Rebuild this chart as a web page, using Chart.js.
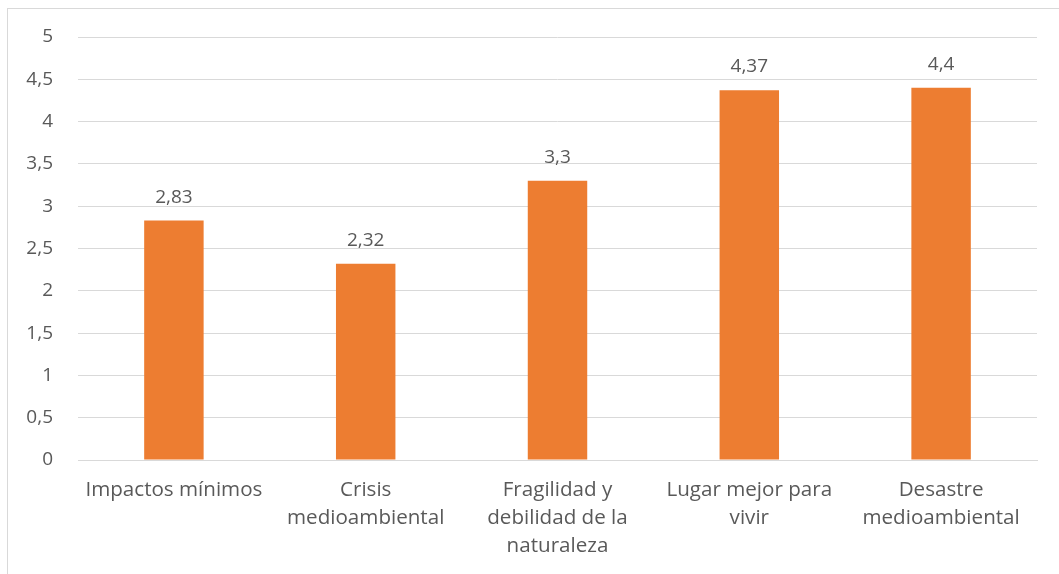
<!DOCTYPE html>
<html>
<head>
<meta charset="utf-8">
<script src="https://cdn.jsdelivr.net/npm/chart.js@4"></script>
<style>
  html,body{margin:0;padding:0;background:#fff;overflow:hidden;}
  #frame{position:absolute;left:7px;top:8px;width:1100px;height:620px;border:1px solid #d9d9d9;box-sizing:border-box;}
  #wrap{position:absolute;left:0;top:0;width:1059px;height:574px;}
</style>
</head>
<body>
<div id="frame"></div>
<div id="wrap"><canvas id="c"></canvas></div>
<script>
// categorías y valores
const labels = [
  "Impactos mínimos",
  ["Crisis", "medioambiental"],
  ["Fragilidad y", "debilidad de la", "naturaleza"],
  ["Lugar mejor para", "vivir"],
  ["Desastre", "medioambiental"]
];
const values = [2.83, 2.32, 3.3, 4.37, 4.4];
const yTicks = [0, 0.5, 1, 1.5, 2, 2.5, 3, 3.5, 4, 4.5, 5];

const TXT = "#595959", GRID = "#d9d9d9", BAR = "#ED7D31";
const FONT = "'Open Sans', sans-serif";

function fmt(v){ return String(v).replace(".", ","); }

// etiquetas de datos encima de cada barra
const valueLabels = {
  id: "valueLabels",
  afterDatasetsDraw(chart){
    const ctx = chart.ctx;
    const meta = chart.getDatasetMeta(0);
    ctx.save();
    ctx.fillStyle = TXT;
    ctx.font = "19px " + FONT;
    ctx.textAlign = "center";
    ctx.textBaseline = "alphabetic";
    meta.data.forEach((bar, i) => {
      ctx.fillText(fmt(values[i]), bar.x, bar.y - 18);
    });
    ctx.restore();
  }
};

new Chart(document.getElementById("c"), {
  type: "bar",
  data: {
    labels: labels,
    datasets: [{ data: values, backgroundColor: BAR, barPercentage: 0.62, categoryPercentage: 0.5 }]
  },
  plugins: [valueLabels],
  options: {
    responsive: true,
    maintainAspectRatio: false,
    animation: false,
    layout: { padding: { left: 0, right: 22, top: 37, bottom: 0 } },
    plugins: { legend: { display: false }, tooltip: { enabled: false } },
    scales: {
      x: {
        grid: { display: false, drawTicks: false },
        border: { color: GRID, width: 1 },
        ticks: { color: TXT, font: { family: FONT, size: 20.6, lineHeight: 1.36 }, padding: 16, maxRotation: 0, autoSkip: false },
        afterFit(s){ s.height = 114; }
      },
      y: {
        min: 0, max: 5,
        afterBuildTicks(s){ s.ticks = yTicks.map(v => ({ value: v })); },
        grid: { color: GRID, lineWidth: 1, drawTicks: false },
        border: { display: false },
        ticks: { color: TXT, font: { family: FONT, size: 19 }, padding: 25, callback: v => fmt(v) },
        afterFit(s){ s.width = 78; }
      }
    }
  }
});
</script>
</body>
</html>
